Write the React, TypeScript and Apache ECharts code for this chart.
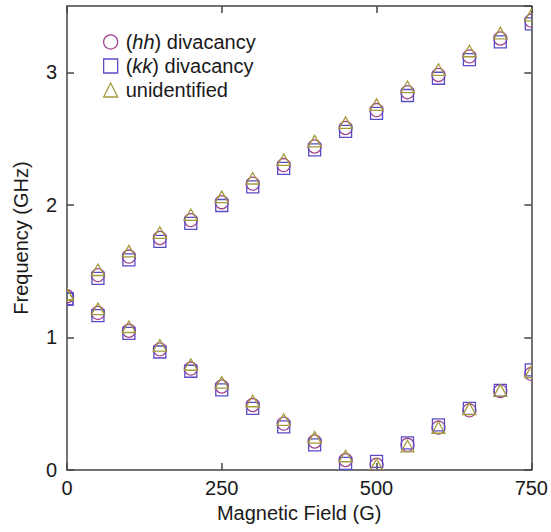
import React, { useEffect, useRef } from "react";
import * as echarts from "echarts";

// Magnetic field values (G)
const fields = [0, 50, 100, 150, 200, 250, 300, 350, 400, 450, 500, 550, 600, 650, 700, 750];

// (hh) divacancy resonance frequencies (GHz)
const hhUpper = [1.31, 1.47, 1.61, 1.75, 1.885, 2.02, 2.16, 2.3, 2.44, 2.58, 2.715, 2.85, 2.98, 3.12, 3.255, 3.39];
const hhLower = [1.31, 1.185, 1.05, 0.91, 0.765, 0.63, 0.49, 0.35, 0.215, 0.075, 0.04, 0.19, 0.32, 0.45, 0.595, 0.725];

// (kk) divacancy resonance frequencies (GHz)
const kkUpper = [1.29, 1.445, 1.585, 1.725, 1.86, 1.995, 2.135, 2.275, 2.415, 2.555, 2.69, 2.825, 2.955, 3.095, 3.23, 3.365];
const kkLower = [1.29, 1.165, 1.03, 0.89, 0.745, 0.605, 0.465, 0.325, 0.19, 0.05, 0.065, 0.205, 0.34, 0.465, 0.6, 0.755];

// unidentified defect resonance frequencies (GHz)
const unUpper = [1.32, 1.505, 1.645, 1.785, 1.92, 2.055, 2.195, 2.335, 2.475, 2.615, 2.75, 2.885, 3.015, 3.155, 3.29, 3.425];
const unLower = [1.32, 1.21, 1.075, 0.935, 0.79, 0.655, 0.515, 0.375, 0.24, 0.1, 0.035, 0.175, 0.315, 0.455, 0.595, 0.735];

const xTicks = { min: 0, max: 750, interval: 250 };
const yTicks = { min: 0, max: 3.5, interval: 1 };

const FONT = "'Liberation Sans', Arial, sans-serif";
const AXIS_COLOR = "#444";
const TEXT_COLOR = "#1a1a1a";

const COLORS = { hh: "#a0448e", kk: "#5a4bc6", un: "#a39b3c" };

type Shape = "circle" | "square" | "triangle";

function makeSeries(name: string, shape: Shape, color: string, upper: number[], lower: number[]) {
  const data = [
    ...fields.map((f, i) => [f, upper[i]]),
    ...fields.map((f, i) => [f, lower[i]]),
  ];
  const lw = 1.3;
  return {
    type: "custom",
    name,
    clip: true,
    data,
    encode: { x: 0, y: 1 },
    itemStyle: { color: "transparent", borderColor: color, borderWidth: lw },
    renderItem: (_params: any, api: any) => {
      const p = api.coord([api.value(0), api.value(1)]);
      const style = { fill: "none", stroke: color, lineWidth: lw };
      if (shape === "circle") {
        return { type: "circle", shape: { cx: p[0], cy: p[1], r: 6.5 }, style };
      }
      if (shape === "square") {
        return { type: "rect", shape: { x: p[0] - 6, y: p[1] - 6, width: 12, height: 12 }, style };
      }
      return {
        type: "polygon",
        shape: {
          points: [
            [p[0], p[1] - 6.5],
            [p[0] - 6.5, p[1] + 5],
            [p[0] + 6.5, p[1] + 5],
          ],
        },
        style,
      };
    },
  };
}

const axisLine = { show: true, onZero: false, lineStyle: { color: AXIS_COLOR, width: 1.5 } };
const axisTick = { show: true, inside: true, length: 7, lineStyle: { color: AXIS_COLOR, width: 1.5 } };

export default function App() {
  const ref = useRef<HTMLDivElement>(null);

  useEffect(() => {
    document.body.style.margin = "0";
    if (!ref.current) return;
    const chart = echarts.init(ref.current, undefined, { renderer: "svg" });

    const legendNames: Record<string, string> = {
      hh: "{g|}({i|hh}) divacancy",
      kk: "{g|}({i|kk}) divacancy",
      unidentified: "{g|}unidentified",
    };

    chart.setOption({
      animation: false,
      backgroundColor: "#fff",
      grid: { left: 67, right: 19, top: 6, bottom: 62, containLabel: false },
      legend: {
        orient: "vertical",
        left: 98,
        top: 27,
        itemWidth: 14,
        itemHeight: 14,
        itemGap: 4,
        data: [
          { name: "hh", icon: "circle", itemStyle: { color: "transparent", borderColor: COLORS.hh, borderWidth: 1.3 } },
          { name: "kk", icon: "rect", itemStyle: { color: "transparent", borderColor: COLORS.kk, borderWidth: 1.3 } },
          { name: "unidentified", icon: "triangle", itemStyle: { color: "transparent", borderColor: COLORS.un, borderWidth: 1.3 } },
        ],
        formatter: (name: string) => legendNames[name] ?? name,
        textStyle: {
          fontFamily: FONT,
          fontSize: 20,
          color: TEXT_COLOR,
          rich: {
            g: { width: 3 },
            i: { fontFamily: FONT, fontSize: 20, fontStyle: "italic", color: TEXT_COLOR },
          },
        },
      },
      xAxis: [
        {
          type: "value",
          position: "bottom",
          ...xTicks,
          axisLine,
          axisTick,
          splitLine: { show: false },
          axisLabel: { fontFamily: FONT, fontSize: 20, color: TEXT_COLOR, margin: 8 },
          name: "Magnetic Field (G)",
          nameLocation: "middle",
          nameGap: 32,
          nameTextStyle: { fontFamily: FONT, fontSize: 20, color: TEXT_COLOR },
        },
        {
          type: "value",
          position: "top",
          ...xTicks,
          axisLine,
          axisTick,
          splitLine: { show: false },
          axisLabel: { show: false },
        },
      ],
      yAxis: [
        {
          type: "value",
          position: "left",
          ...yTicks,
          axisLine,
          axisTick,
          splitLine: { show: false },
          axisLabel: { fontFamily: FONT, fontSize: 20, color: TEXT_COLOR, margin: 10, showMaxLabel: false },
          name: "Frequency (GHz)",
          nameLocation: "middle",
          nameGap: 36,
          nameTextStyle: { fontFamily: FONT, fontSize: 20, color: TEXT_COLOR },
        },
        {
          type: "value",
          position: "right",
          ...yTicks,
          axisLine,
          axisTick,
          splitLine: { show: false },
          axisLabel: { show: false },
        },
      ],
      series: [
        makeSeries("hh", "circle", COLORS.hh, hhUpper, hhLower),
        makeSeries("kk", "square", COLORS.kk, kkUpper, kkLower),
        makeSeries("unidentified", "triangle", COLORS.un, unUpper, unLower),
      ],
    });

    return () => chart.dispose();
  }, []);

  return <div ref={ref} style={{ width: 551, height: 532 }} />;
}
